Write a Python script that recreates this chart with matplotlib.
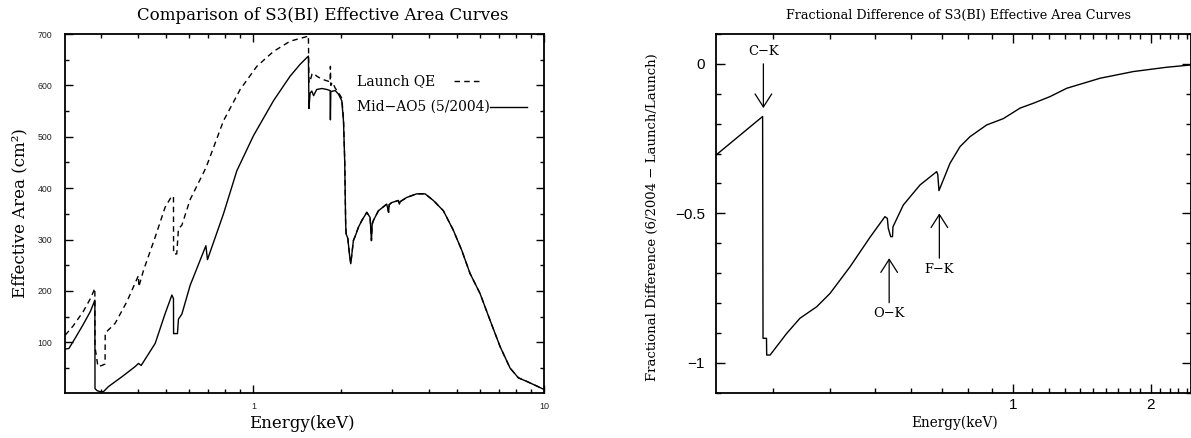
import matplotlib
matplotlib.use("Agg")
import matplotlib.pyplot as plt
from matplotlib.ticker import FixedLocator, NullFormatter, MultipleLocator, FuncFormatter

# ---------------- data ----------------
# Left panel: Mid-AO5 (5/2004) effective area (solid)
energy_mid = [0.2254, 0.232, 0.245, 0.26, 0.275, 0.2850, 0.2853, 0.290, 0.297, 0.305,
              0.3175, 0.353, 0.3923, 0.4025, 0.4112, 0.4595, 0.4971, 0.5244, 0.531, 0.5315,
              0.548, 0.5523, 0.5675, 0.606, 0.6863, 0.695, 0.7888, 0.877, 1.0, 1.1716,
              1.337, 1.447, 1.545, 1.552, 1.566, 1.587, 1.61, 1.65, 1.72, 1.79,
              1.835, 1.839, 1.845, 1.91, 1.96, 2.013, 2.04, 2.06, 2.075, 2.083,
              2.111, 2.14, 2.161, 2.206, 2.25, 2.296, 2.358, 2.453, 2.518, 2.545,
              2.56, 2.584, 2.689, 2.873, 2.915, 2.93, 2.989, 3.149, 3.175, 3.2,
              3.366, 3.643, 3.891, 4.156, 4.498, 4.868, 5.202, 5.555, 6.012, 6.508,
              7.043, 7.624, 8.142, 8.70, 9.42, 10.0]
area_mid = [87, 88, 110, 135, 160, 182, 10, 6, 4, 4,
            14, 33, 53, 59, 55, 98, 156, 192, 185, 117,
            117, 145, 155, 211, 288, 261, 350, 434, 502, 570,
            618, 641, 657, 555, 585, 589, 580, 592, 594, 592,
            590, 533, 588, 590, 583, 570, 530, 450, 330, 311,
            302, 270, 253, 298, 310, 324, 337, 353, 343, 298,
            330, 337, 356, 369, 353, 368, 372, 376, 369, 374,
            382, 389, 389, 376, 356, 318, 279, 234, 195, 143,
            92, 50, 31, 24, 15, 8]

# Left panel: Launch QE effective area (dashed), below 2.08 keV
energy_launch = [0.2254, 0.24, 0.26, 0.275, 0.2850, 0.2853, 0.292, 0.3013, 0.3090, 0.3093,
                 0.3346, 0.3671, 0.4025, 0.4035, 0.4188, 0.4595, 0.4971, 0.5244, 0.531, 0.5315,
                 0.545, 0.5523, 0.5675, 0.606, 0.687, 0.7888, 0.9, 1.027, 1.1716, 1.337,
                 1.526, 1.545, 1.552, 1.56, 1.59, 1.61, 1.65, 1.72, 1.81, 1.835,
                 1.839, 1.845, 1.87, 1.909, 1.96, 2.013, 2.04, 2.06, 2.075]
area_launch = [114, 132, 160, 185, 205, 91, 53, 55, 58, 118,
               137, 179, 230, 208, 240, 305, 363, 385, 383, 272,
               272, 321, 328, 378, 440, 531, 592, 637, 666, 686,
               695, 697, 608, 605, 622, 624, 618, 612, 608, 606,
               637, 600, 606, 595, 586, 575, 535, 455, 335]

# Right panel: fractional difference
energy_frac = [0.225, 0.2844, 0.2850, 0.2900, 0.2903, 0.2953, 0.321, 0.3431, 0.3733, 0.3992,
               0.4414, 0.488, 0.526, 0.5324, 0.5349, 0.5415, 0.5464, 0.5477, 0.5769, 0.6275,
               0.6822, 0.686, 0.6901, 0.7295, 0.7672, 0.8069, 0.8774, 0.9539, 1.0373, 1.109,
               1.2063, 1.312, 1.551, 1.834, 2.169, 2.46]
frac_diff = [-0.305, -0.176, -0.918, -0.918, -0.974, -0.974, -0.9016, -0.851, -0.8124, -0.7677,
             -0.6786, -0.58, -0.511, -0.517, -0.55, -0.578, -0.578, -0.545, -0.472, -0.405,
             -0.3605, -0.37, -0.424, -0.3325, -0.2768, -0.2433, -0.2042, -0.183, -0.148, -0.1317,
             -0.1094, -0.0815, -0.048, -0.0256, -0.0112, -0.0033]

# Edge annotations
edge_names = ["C\u2212K", "O\u2212K", "F\u2212K"]
edge_energy = [0.2855, 0.5373, 0.6915]
edge_tip = [-0.148, -0.650, -0.500]
edge_tail = [0.0, -0.799, -0.650]
edge_text_y = [0.041, -0.835, -0.687]

left_xticks = [1, 10]
left_xminor = [0.3, 0.4, 0.5, 0.6, 0.7, 0.8, 0.9, 2, 3, 4, 5, 6, 7, 8, 9]
right_xticks = [1, 2]
right_xminor = [0.3, 0.4, 0.5, 0.6, 0.7, 0.8, 0.9, 1.1, 1.2, 1.3, 1.4, 1.5, 1.6, 1.7,
                1.8, 1.9, 2.1, 2.2, 2.3, 2.4]
left_yticks = [100, 200, 300, 400, 500, 600, 700]
right_yticks = [-1, -0.5, 0]

# launch curve above 2.08 keV coincides with the mid-AO5 curve
energy_launch_full = energy_launch + [e for e in energy_mid if e >= 2.083]
area_launch_full = area_launch + [a for e, a in zip(energy_mid, area_mid) if e >= 2.083]

SERIF = "DejaVu Serif"
SANS = "Liberation Sans"

fig = plt.figure(figsize=(11.91, 4.38), dpi=100)
ax1 = fig.add_axes([0.05458, 0.10342, 0.40244, 0.81895])
ax2 = fig.add_axes([0.60118, 0.10342, 0.39882, 0.81895])

# ---------------- left panel ----------------
ax1.plot(energy_launch_full, area_launch_full, color="k", lw=1.0, dashes=(4, 3))
ax1.plot(energy_mid, area_mid, color="k", lw=1.0)
ax1.set_xscale("log")
ax1.set_xlim(0.225, 10)
ax1.set_ylim(2, 700)
ax1.xaxis.set_major_locator(FixedLocator(left_xticks))
ax1.xaxis.set_major_formatter(FuncFormatter(lambda v, p: "%g" % v))
ax1.xaxis.set_minor_locator(FixedLocator(left_xminor))
ax1.xaxis.set_minor_formatter(NullFormatter())
ax1.yaxis.set_major_locator(FixedLocator(left_yticks))
ax1.yaxis.set_minor_locator(MultipleLocator(50))
ax1.tick_params(which="both", direction="in", top=True, right=True, width=1.0, color="k")
ax1.tick_params(which="major", length=5.5)
ax1.tick_params(which="minor", length=3.2)
ax1.tick_params(axis="y", which="major", pad=9, labelsize=6.3)
ax1.tick_params(axis="x", which="major", pad=7, labelsize=6.5)
for lab in ax1.get_xticklabels() + ax1.get_yticklabels():
    lab.set_family(SANS)
    lab.set_color("#222222")
for s in ax1.spines.values():
    s.set_linewidth(1.3)

# legend drawn as text + sample line after text
ax1.text(0.6086, 0.869, "Launch QE", transform=ax1.transAxes, family=SERIF,
         fontsize=10, va="center", ha="left")
ax1.plot([0.8116, 0.872], [0.869, 0.869], transform=ax1.transAxes, color="k",
         lw=1.0, dashes=(4, 3))
ax1.text(0.6086, 0.797, "Mid\u2212AO5 (5/2004)", transform=ax1.transAxes, family=SERIF,
         fontsize=10, va="center", ha="left")
ax1.plot([0.8877, 0.963], [0.797, 0.797], transform=ax1.transAxes, color="k", lw=1.0)

# ---------------- right panel ----------------
ax2.plot(energy_frac, frac_diff, color="k", lw=1.0)
ax2.set_xscale("log")
ax2.set_xlim(0.225, 2.45)
ax2.set_ylim(-1.1, 0.1)
ax2.xaxis.set_major_locator(FixedLocator(right_xticks))
ax2.xaxis.set_major_formatter(FuncFormatter(lambda v, p: "%g" % v))
ax2.xaxis.set_minor_locator(FixedLocator(right_xminor))
ax2.xaxis.set_minor_formatter(NullFormatter())
ax2.yaxis.set_major_locator(FixedLocator(right_yticks))
ax2.yaxis.set_major_formatter(FuncFormatter(lambda v, p: ("%g" % v).replace("-", "\u2212")))
ax2.yaxis.set_minor_locator(MultipleLocator(0.1))
ax2.tick_params(which="both", direction="in", top=True, right=True, width=1.0, color="k")
ax2.tick_params(which="major", length=6.2)
ax2.tick_params(which="minor", length=3.6)
ax2.tick_params(axis="y", which="major", pad=8, labelsize=11)
ax2.tick_params(axis="x", which="major", pad=4, labelsize=11)
for lab in ax2.get_xticklabels() + ax2.get_yticklabels():
    lab.set_family(SANS)
for s in ax2.spines.values():
    s.set_linewidth(1.3)

for name, e, tip, tail, ty in zip(edge_names, edge_energy, edge_tip, edge_tail, edge_text_y):
    ax2.annotate("", xy=(e, tip), xytext=(e, tail),
                 arrowprops=dict(arrowstyle="->,head_length=0.47,head_width=0.3",
                                 mutation_scale=20, color="k", lw=0.9,
                                 shrinkA=0, shrinkB=0))
    ax2.text(e, ty, name, ha="center", va="center", family=SERIF, fontsize=9.4)

# ---------------- titles & labels ----------------
fig.text(323 / 1191, 1 - 16 / 438, "Comparison of S3(BI) Effective Area Curves",
         ha="center", va="center", family=SERIF, fontsize=12)
fig.text(958.5 / 1191, 1 - 15.5 / 438, "Fractional Difference of S3(BI) Effective Area Curves",
         ha="center", va="center", family=SERIF, fontsize=9.2)
fig.text(302 / 1191, 1 - 424 / 438, "Energy(keV)", ha="center", va="center",
         family=SERIF, fontsize=12)
fig.text(955 / 1191, 1 - 423 / 438, "Energy(keV)", ha="center", va="center",
         family=SERIF, fontsize=9.8)
fig.text(20 / 1191, 1 - 213.5 / 438, "Effective Area (cm\u00b2)", ha="center", va="center",
         rotation=90, family=SERIF, fontsize=12)
fig.text(652.7 / 1191, 1 - 217.5 / 438,
         "Fractional Difference (6/2004 \u2212 Launch/Launch)", ha="center", va="center",
         rotation=90, family=SERIF, fontsize=9.5)

fig.savefig("out.png", dpi=100)
